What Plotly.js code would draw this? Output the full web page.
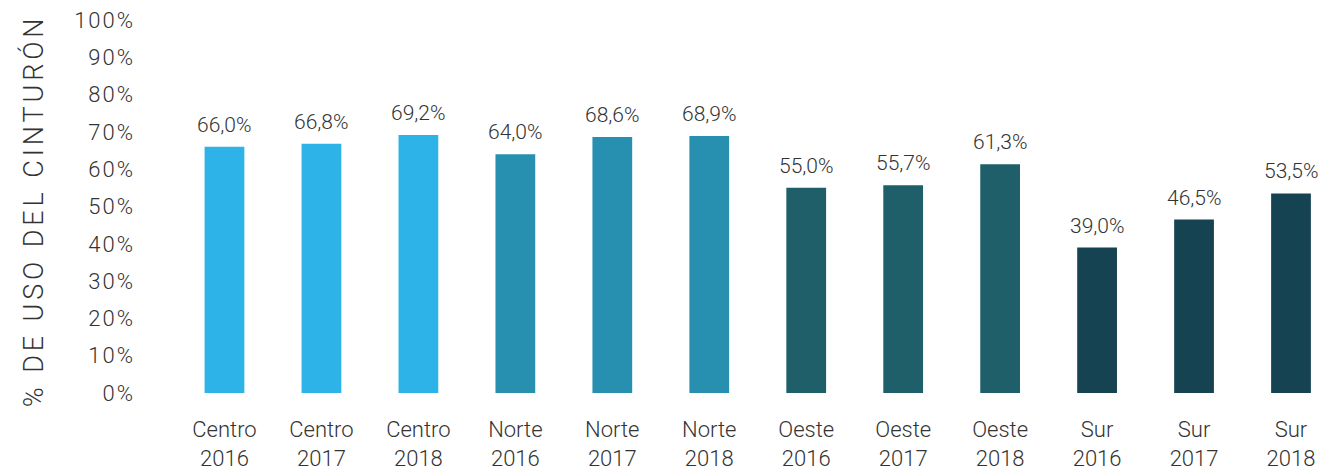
<!DOCTYPE html>
<html>
<head>
<meta charset="utf-8">
<script src="https://cdn.plot.ly/plotly-3.0.1.min.js"></script>
<style>
html,body{margin:0;padding:0;background:#fff;}
#chart{width:1323px;height:475px;}
.ytick text{letter-spacing:2px;}
.annotation.ytitle-ann .annotation-text{letter-spacing:3.9px;}
</style>
</head>
<body>
<div id="chart"></div>
<script>
const regions = ["Centro","Centro","Centro","Norte","Norte","Norte","Oeste","Oeste","Oeste","Sur","Sur","Sur"];
const years = ["2016","2017","2018","2016","2017","2018","2016","2017","2018","2016","2017","2018"];
const values = [0.660, 0.668, 0.692, 0.640, 0.686, 0.689, 0.550, 0.557, 0.613, 0.390, 0.465, 0.535];
const regionColors = {"Centro":"#2DB3E8","Norte":"#2790B0","Oeste":"#1E5F6A","Sur":"#154351"};
const yTickVals = [0,0.1,0.2,0.3,0.4,0.5,0.6,0.7,0.8,0.9,1.0];
const yTickText = ["0%","10%","20%","30%","40%","50%","60%","70%","80%","90%","100%"];
const yTitle = "% DE USO DEL CINTURÓN";

const labels = regions.map((r,i)=> r + "<br>" + years[i]);
const FONT = "Roboto, 'Liberation Sans', sans-serif";

const trace = {
  type: "bar",
  x: labels,
  y: values,
  marker: {color: regions.map(r=>regionColors[r])},
  hoverinfo: "skip"
};

const valueLabels = labels.map((lab, i) => ({
  xref: "x", yref: "y",
  x: lab, y: values[i],
  text: (values[i]*100).toFixed(1).replace(".", ",") + "%",
  showarrow: false,
  xanchor: "center", yanchor: "bottom",
  yshift: 8,
  font: {family: FONT, size: 21, color: "#333", weight: 300}
}));

const layout = {
  width: 1323, height: 475,
  margin: {l: 176, r: 0, t: 20, b: 82},
  paper_bgcolor: "#fff", plot_bgcolor: "#fff",
  separators: ",.",
  bargap: 0.59,
  showlegend: false,
  font: {family: FONT, color: "#333", weight: 300},
  xaxis: {
    type: "category",
    range: [-0.5, 11.33],
    showgrid: false, zeroline: false, showline: false,
    ticks: "",
    ticklabelstandoff: 21,
    tickfont: {family: FONT, size: 22, color: "#333", weight: 300},
    automargin: false
  },
  yaxis: {
    range: [0, 1],
    tickvals: yTickVals,
    ticktext: yTickText,
    showgrid: false, zeroline: false, showline: false,
    ticks: "",
    ticklabelstandoff: 40,
    tickfont: {family: FONT, size: 22, color: "#333", weight: 300},
    automargin: false
  },
  annotations: valueLabels.concat([{
    text: yTitle,
    xref: "paper", yref: "paper",
    x: -0.1247, y: 0.49,
    xanchor: "center", yanchor: "middle",
    textangle: -90,
    showarrow: false,
    font: {family: FONT, size: 27, color: "#333", weight: 300}
  }])
};

Plotly.newPlot("chart", [trace], layout, {displayModeBar: false, staticPlot: true}).then(() => {
  const anns = document.querySelectorAll(".annotation");
  const last = anns[anns.length - 1];
  if (last) last.classList.add("ytitle-ann");
});
</script>
</body>
</html>
